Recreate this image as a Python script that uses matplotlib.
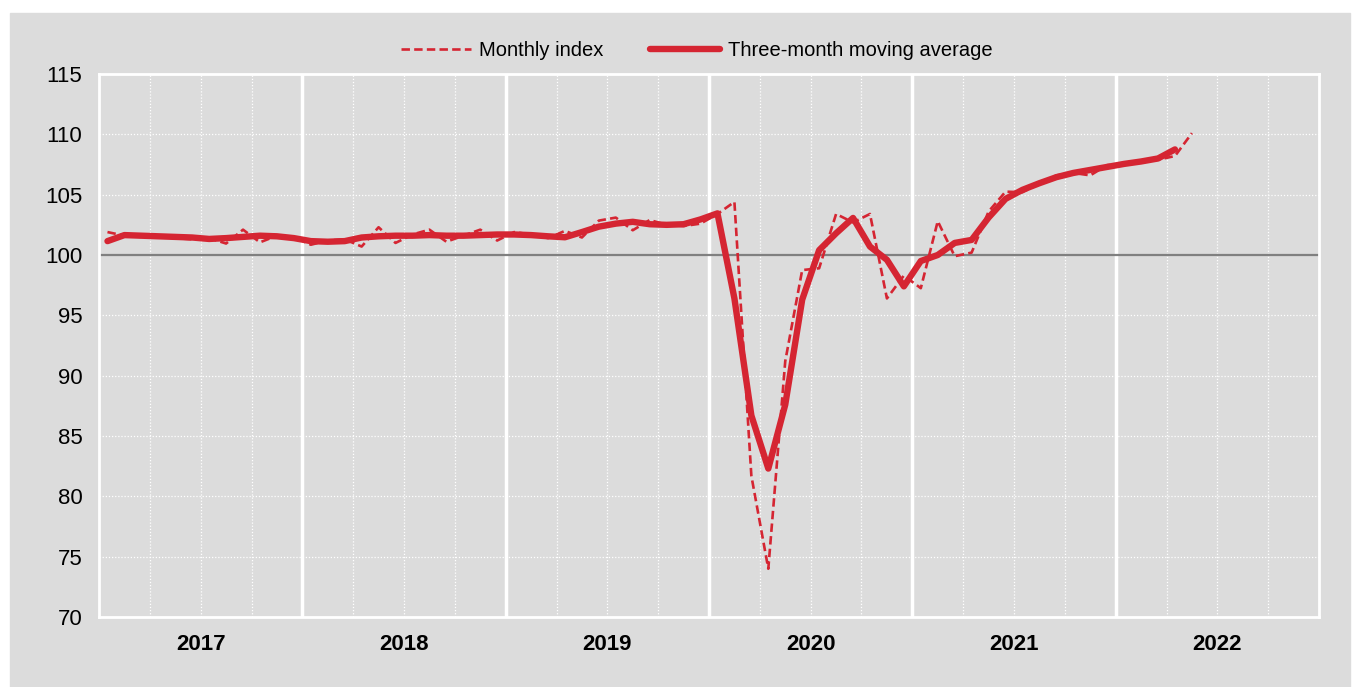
import numpy as np
import matplotlib.pyplot as plt
from matplotlib.patches import Rectangle

plt.rcParams['font.family'] = ['Liberation Sans', 'DejaVu Sans']

years = [2017, 2018, 2019, 2020, 2021, 2022]

# monthly index, Jan 2017 .. May 2022
monthly = [
    101.9, 101.6, 101.5, 101.5, 101.4, 101.3, 101.4, 100.95, 102.1, 101.05, 101.6, 101.5,
    100.85, 101.2, 101.3, 100.7, 102.3, 101.0, 101.7, 102.1, 101.1, 101.6, 102.1, 101.2,
    101.9, 101.7, 101.4, 102.0, 101.45, 102.85, 103.1, 102.05, 102.9, 102.5, 102.4, 102.6,
    103.4, 104.4, 81.7, 74.0, 91.2, 98.75, 98.9, 103.4, 102.7, 103.4, 96.4, 98.3,
    97.25, 102.8, 99.9, 100.2, 103.6, 105.25, 105.2, 105.9, 106.6, 106.8, 106.6, 107.45,
    107.5, 107.7, 107.9, 108.2, 110.1,
]

# three-month moving average (centred), Jan 2017 .. Apr 2022
moving_avg = [
    101.15, 101.65, 101.6, 101.55, 101.5, 101.45, 101.33, 101.4, 101.5, 101.6, 101.55, 101.4,
    101.15, 101.1, 101.15, 101.45, 101.55, 101.6, 101.6, 101.65, 101.6, 101.6, 101.65, 101.7,
    101.7, 101.65, 101.55, 101.47, 101.9, 102.35, 102.6, 102.75, 102.55, 102.5, 102.55, 102.95,
    103.45, 96.4, 86.7, 82.3, 87.6, 96.3, 100.4, 101.8, 103.07, 100.7, 99.6, 97.4,
    99.5, 100.0, 101.0, 101.25, 103.1, 104.65, 105.4, 105.95, 106.45, 106.8, 107.05, 107.3,
    107.55, 107.75, 108.0, 108.75,
]

red = '#d52532'
bg = '#dcdcdc'

fig = plt.figure(figsize=(13.6, 6.87), dpi=100)
fig.patches.append(Rectangle((10 / 1360, 0), 1340 / 1360, 674 / 687,
                             transform=fig.transFigure, color=bg, zorder=-10))
ax = fig.add_axes([99 / 1360, 1 - 617 / 687, 1220 / 1360, 543 / 687])
ax.set_facecolor(bg)

x_m = np.arange(len(monthly)) + 0.5
x_a = np.arange(len(moving_avg)) + 0.5

n_months = 12 * len(years)
ax.set_xlim(0, n_months)
ax.set_ylim(70, 115)

# grid: solid white at year edges, dotted at quarters and every 5 points
for q in range(3, n_months, 3):
    if q % 12 == 0:
        ax.axvline(q, color='white', lw=2.5, zorder=1)
    else:
        ax.axvline(q, color='white', lw=0.9, ls=(0, (1, 1.5)), zorder=1)
for yv in range(75, 115, 5):
    if yv == 100:
        ax.axhline(yv, color='#808080', lw=1.6, zorder=2)
    else:
        ax.axhline(yv, color='white', lw=0.9, ls=(0, (1, 1.5)), zorder=1)

ax.plot(x_m, monthly, color=red, lw=1.9, ls=(0, (3.2, 1.6)), label='Monthly index', zorder=3)
ax.plot(x_a, moving_avg, color=red, lw=4.6, solid_capstyle='round', solid_joinstyle='round',
        label='Three-month moving average', zorder=4)

ax.set_xticks([12 * k + 6 for k in range(len(years))])
ax.set_xticklabels([str(y) for y in years], fontsize=16, fontweight='bold')
ax.set_yticks(range(70, 116, 5))
ax.set_yticklabels([str(v) for v in range(70, 116, 5)], fontsize=16)
ax.tick_params(axis='both', length=0)
ax.tick_params(axis='x', pad=12)
ax.tick_params(axis='y', pad=12)

for s in ax.spines.values():
    s.set_color('white')
    s.set_linewidth(2)

ax.legend(loc='lower center', bbox_to_anchor=(0.49, 1.0), ncol=2, frameon=False,
          fontsize=14.5, handlelength=3.5, handletextpad=0.4, columnspacing=2.3,
          borderaxespad=0.3)

fig.savefig('out.png', dpi=100, facecolor='white')
